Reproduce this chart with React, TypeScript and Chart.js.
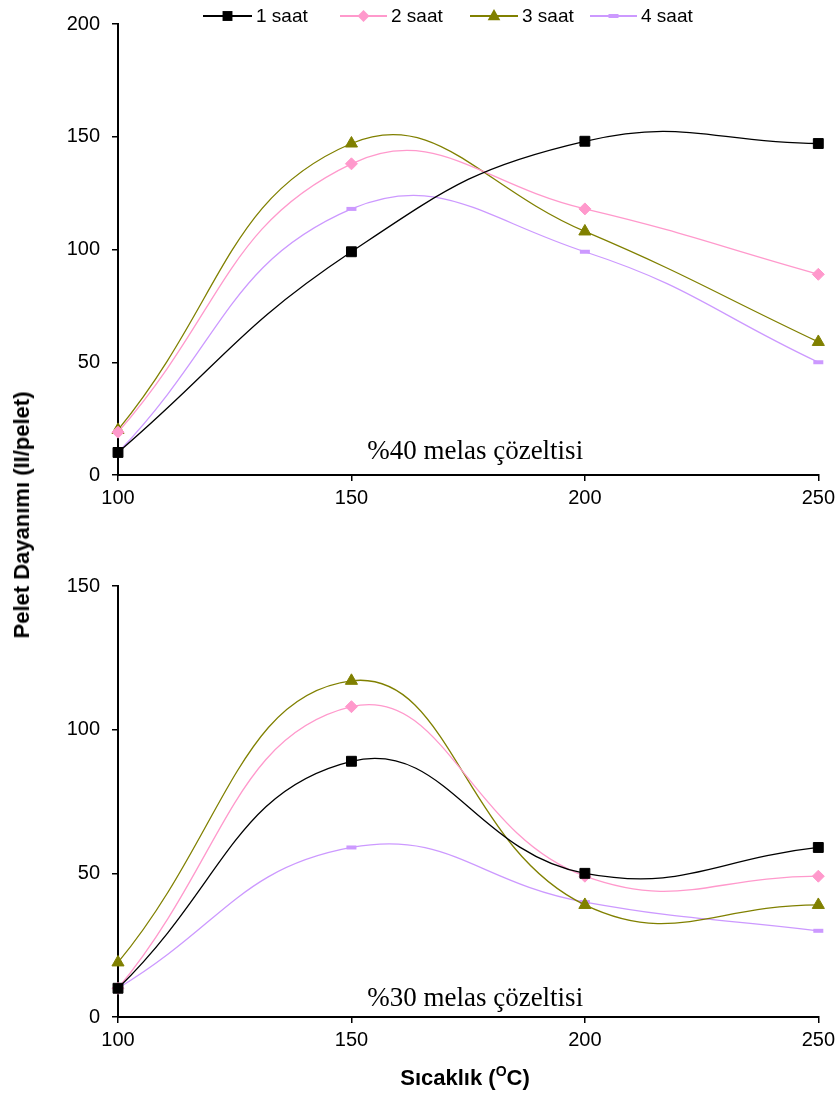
import React, { useEffect, useRef } from "react";
import { Chart, registerables } from "chart.js";
Chart.register(...registerables);

// ---- data ----
const temps = [100, 150, 200, 250];
const seriesLabels = ["1 saat", "2 saat", "3 saat", "4 saat"];
const top1 = [10, 99, 148, 147];
const top2 = [19, 138, 118, 89];
const top3 = [20, 147, 108, 59];
const top4 = [10, 118, 99, 50];
const bot1 = [10, 89, 50, 59];
const bot2 = [10, 108, 49, 49];
const bot3 = [19, 117, 39, 39];
const bot4 = [10, 59, 40, 30];
const xTickValues = [100, 150, 200, 250];
const topYMax = 200;
const botYMax = 150;
const topNote = "%40 melas çözeltisi";
const botNote = "%30 melas çözeltisi";
const yTitle = "Pelet Dayanımı (II/pelet)";

// ---- styles ----
const styles = [
  { color: "#000000", pointStyle: "rect", radius: 7, pbw: 1 },
  { color: "#FF99CC", pointStyle: "rectRot", radius: 6, pbw: 1 },
  { color: "#808000", pointStyle: "triangle", radius: 7, pbw: 1 },
  { color: "#CC99FF", pointStyle: "line", radius: 5, pbw: 4 },
];
const SANS = "Arial, 'Liberation Sans', sans-serif";
const SERIF = "'Times New Roman', 'Liberation Serif', serif";

function makeDatasets(series: number[][]) {
  return series.map((vals, i) => ({
    label: seriesLabels[i],
    data: temps.map((t, j) => ({ x: t, y: vals[j] })),
    borderColor: styles[i].color,
    backgroundColor: styles[i].color,
    pointBackgroundColor: styles[i].color,
    pointBorderColor: styles[i].color,
    pointStyle: styles[i].pointStyle,
    pointRadius: styles[i].radius,
    pointBorderWidth: styles[i].pbw,
    borderWidth: 1.3,
    tension: 0.45,
    clip: false,
  }));
}

function drawMarker(ctx: CanvasRenderingContext2D, style: any, x: number, y: number) {
  ctx.save();
  ctx.fillStyle = style.color;
  ctx.strokeStyle = style.color;
  const r = style.radius;
  ctx.beginPath();
  if (style.pointStyle === "rect") {
    const s = Math.SQRT1_2 * r;
    ctx.rect(x - s, y - s, 2 * s, 2 * s);
    ctx.fill();
  } else if (style.pointStyle === "rectRot") {
    ctx.moveTo(x, y - r);
    ctx.lineTo(x + r, y);
    ctx.lineTo(x, y + r);
    ctx.lineTo(x - r, y);
    ctx.closePath();
    ctx.fill();
  } else if (style.pointStyle === "triangle") {
    ctx.moveTo(x, y - r);
    ctx.lineTo(x + r * 0.9, y + r * 0.6);
    ctx.lineTo(x - r * 0.9, y + r * 0.6);
    ctx.closePath();
    ctx.fill();
  } else {
    ctx.lineWidth = 4;
    ctx.moveTo(x - r, y);
    ctx.lineTo(x + r, y);
    ctx.stroke();
  }
  ctx.restore();
}

const legendPlugin = {
  id: "customLegend",
  afterDraw(chart: any) {
    const ctx = chart.ctx as CanvasRenderingContext2D;
    const pos = [
      { x0: 203, x1: 252, tx: 256 },
      { x0: 340, x1: 387, tx: 391 },
      { x0: 470, x1: 518, tx: 522 },
      { x0: 590, x1: 637, tx: 641 },
    ];
    const y = 16;
    ctx.save();
    pos.forEach((p, i) => {
      ctx.strokeStyle = styles[i].color;
      ctx.lineWidth = 2;
      ctx.beginPath();
      ctx.moveTo(p.x0, y);
      ctx.lineTo(p.x1, y);
      ctx.stroke();
      drawMarker(ctx, styles[i], (p.x0 + p.x1) / 2, y);
      ctx.fillStyle = "#000";
      ctx.font = `19px ${SANS}`;
      ctx.textBaseline = "middle";
      ctx.textAlign = "left";
      ctx.fillText(seriesLabels[i], p.tx, y + 1);
    });
    ctx.restore();
  },
};

const notePlugin = {
  id: "note",
  afterDraw(chart: any, _args: any, opts: any) {
    const ctx = chart.ctx as CanvasRenderingContext2D;
    const a = chart.chartArea;
    ctx.save();
    ctx.font = `27px ${SERIF}`;
    ctx.fillStyle = "#000";
    ctx.textAlign = "center";
    ctx.textBaseline = "alphabetic";
    ctx.fillText(opts.text, a.left + (a.right - a.left) * 0.51, a.bottom - opts.offset);
    ctx.restore();
  },
};

function makeOptions(yMax: number, padTop: number, xHeight: number, note: string, noteOffset: number) {
  return {
    responsive: false,
    animation: false as const,
    layout: { padding: { top: padTop, right: 20, left: 0, bottom: 0 } },
    plugins: {
      legend: { display: false },
      tooltip: { enabled: false },
      note: { text: note, offset: noteOffset },
    },
    scales: {
      x: {
        type: "linear" as const,
        min: 100,
        max: 250,
        afterBuildTicks: (s: any) => {
          s.ticks = xTickValues.map((v) => ({ value: v }));
        },
        afterFit: (s: any) => {
          s.height = xHeight;
        },
        grid: { display: true, drawOnChartArea: false, drawTicks: true, tickLength: 6, tickColor: "#000", lineWidth: 1.5 },
        border: { display: true, color: "#000", width: 2 },
        ticks: { color: "#000", font: { family: SANS, size: 20 }, padding: 5, maxRotation: 0 },
      },
      y: {
        type: "linear" as const,
        min: 0,
        max: yMax,
        ticks: { stepSize: 50, color: "#000", font: { family: SANS, size: 20 }, padding: 12 },
        afterFit: (s: any) => {
          s.width = 118;
        },
        grid: { display: true, drawOnChartArea: false, drawTicks: true, tickLength: 6, tickColor: "#000", lineWidth: 1.5 },
        border: { display: true, color: "#000", width: 2 },
      },
    },
  };
}

function LineChart(props: { series: number[][]; yMax: number; height: number; padTop: number; xHeight: number; note: string; noteOffset: number; legend: boolean }) {
  const ref = useRef<HTMLCanvasElement | null>(null);
  useEffect(() => {
    if (!ref.current) return;
    const plugins: any[] = [notePlugin];
    if (props.legend) plugins.push(legendPlugin);
    const chart = new Chart(ref.current, {
      type: "line",
      data: { datasets: makeDatasets(props.series) as any },
      options: makeOptions(props.yMax, props.padTop, props.xHeight, props.note, props.noteOffset) as any,
      plugins,
    });
    return () => chart.destroy();
  }, []);
  return <canvas ref={ref} width={840} height={props.height} style={{ display: "block", width: 840, height: props.height }} />;
}

export default function App() {
  return (
    <div style={{ position: "absolute", left: 0, top: 0, width: 840, height: 1093, background: "#fff", overflow: "hidden" }}>
      <div style={{ position: "absolute", left: 0, top: 0 }}>
        <LineChart series={[top1, top2, top3, top4]} yMax={topYMax} height={545} padTop={23} xHeight={70} note={topNote} noteOffset={16} legend={true} />
      </div>
      <div style={{ position: "absolute", left: 0, top: 545 }}>
        <LineChart series={[bot1, bot2, bot3, bot4]} yMax={botYMax} height={548} padTop={41} xHeight={76} note={botNote} noteOffset={11} legend={false} />
      </div>
      <div
        style={{
          position: "absolute",
          left: 22,
          top: 515,
          transform: "translate(-50%, -50%) rotate(-90deg)",
          whiteSpace: "nowrap",
          fontFamily: SANS,
          fontWeight: "bold",
          fontSize: 22,
          color: "#000",
        }}
      >
        {yTitle}
      </div>
      <div
        style={{
          position: "absolute",
          left: 465,
          top: 1077,
          transform: "translate(-50%, -50%)",
          whiteSpace: "nowrap",
          fontFamily: SANS,
          fontWeight: "bold",
          fontSize: 22,
          color: "#000",
        }}
      >
        Sıcaklık (<sup style={{ fontSize: 14 }}>O</sup>C)
      </div>
    </div>
  );
}
